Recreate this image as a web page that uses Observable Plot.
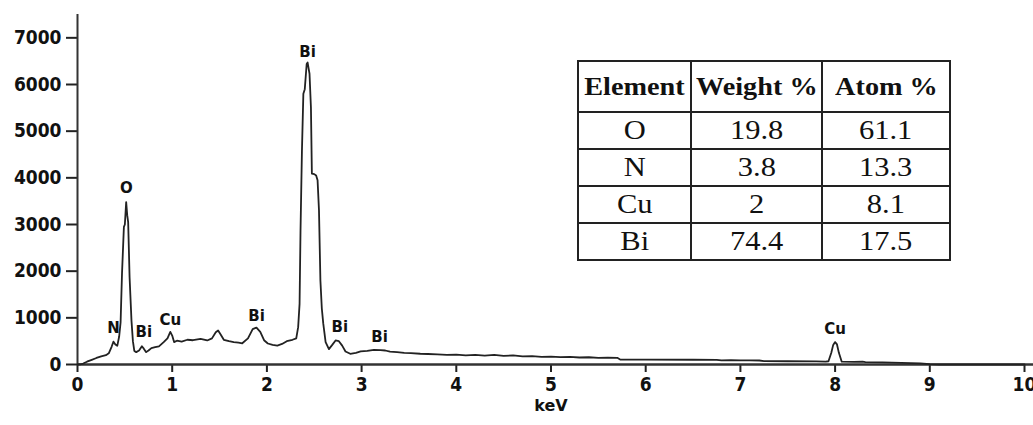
<!DOCTYPE html>
<html>
<head>
<meta charset="utf-8">
<script src="https://cdn.jsdelivr.net/npm/d3@7"></script>
<script src="https://cdn.jsdelivr.net/npm/@observablehq/plot@0.6"></script>
<style>
  html, body { margin: 0; padding: 0; background: #fff; }
  #wrap { position: relative; width: 1033px; height: 425px; overflow: hidden; }
  #chart svg { display: block; }
  #chart svg g[aria-label="y-axis tick label"] text,
  #chart svg g[aria-label="x-axis tick label"] text {
    font-family: "DejaVu Sans Condensed", "DejaVu Sans", sans-serif;
    font-stretch: condensed;
    font-weight: bold;
    font-size: 19px;
    fill: #111;
  }
  table.eds {
    position: absolute; left: 577px; top: 60px;
    border-collapse: collapse;
    table-layout: fixed;
    width: 366px;
    font-family: "Liberation Serif", "Times New Roman", Times, serif;
    color: #111;
  }
  table.eds td, table.eds th {
    border: 2px solid #222;
    text-align: center;
    padding: 0;
    line-height: 1;
    white-space: nowrap;
  }
  table.eds th { font-weight: bold; font-size: 25px; height: 49px; }
  table.eds td { height: 35px; font-weight: normal; font-size: 27px; }
  table.eds span { display: inline-block; transform: scaleX(1.13); }
</style>
</head>
<body>
<div id="wrap">
  <div id="chart"></div>
</div>
<script>
// ---- Spectrum data (keV, counts) ----
const keV = [
  0.00, 0.03, 0.06, 0.10, 0.15, 0.20, 0.25, 0.30, 0.33, 0.36, 0.38, 0.40, 0.42, 0.44, 0.455, 0.47, 0.49, 0.50, 0.514, 0.525,
  0.535, 0.55, 0.57, 0.585, 0.60, 0.62, 0.65, 0.68, 0.70, 0.725, 0.75, 0.78, 0.82, 0.86, 0.91, 0.95, 0.98, 1.00, 1.02, 1.05,
  1.10, 1.16, 1.22, 1.30, 1.37, 1.42, 1.46, 1.485, 1.51, 1.545, 1.60, 1.65, 1.70, 1.74, 1.80, 1.85, 1.89, 1.93, 1.97, 2.01,
  2.06, 2.11, 2.16, 2.21, 2.27, 2.31, 2.33, 2.345, 2.355, 2.37, 2.385, 2.40, 2.42, 2.43, 2.45, 2.465, 2.475, 2.50, 2.52, 2.535,
  2.55, 2.565, 2.58, 2.595, 2.62, 2.655, 2.69, 2.725, 2.76, 2.795, 2.83, 2.88, 2.94, 2.99, 3.06, 3.13, 3.20, 3.25, 3.30, 3.375,
  3.45, 3.52, 3.62, 3.70, 3.80, 3.90, 4.00, 4.10, 4.20, 4.30, 4.40, 4.50, 4.60, 4.70, 4.80, 4.90, 5.00, 5.10, 5.20, 5.30,
  5.40, 5.50, 5.60, 5.70, 5.73, 6.00, 6.50, 6.75, 6.80, 6.90, 7.00, 7.10, 7.20, 7.25, 7.50, 7.80, 7.90, 7.93, 7.96, 7.98,
  8.00, 8.02, 8.04, 8.07, 8.20, 8.29, 8.32, 8.50, 8.70, 8.90, 9.00, 9.10, 10.0
];
const counts = [
  0, 5, 20, 60, 100, 140, 175, 200, 240, 380, 490, 430, 400, 600, 900, 1950, 2950, 3000, 3480, 3200,
  3050, 1870, 940, 500, 290, 265, 300, 390, 340, 265, 300, 350, 370, 390, 480, 560, 700, 620, 480, 510,
  490, 530, 520, 550, 515, 560, 690, 730, 650, 530, 500, 480, 470, 455, 560, 760, 790, 700, 520, 450,
  420, 405, 440, 500, 530, 560, 800, 1300, 2870, 4580, 5800, 5900, 6440, 6470, 6230, 5510, 4090, 4080, 4050, 3950,
  3300, 1800, 1200, 880, 480, 330, 420, 515, 500, 405, 280, 230, 250, 280, 290, 315, 310, 300, 275, 265,
  250, 245, 230, 225, 215, 205, 210, 195, 205, 190, 205, 185, 195, 175, 180, 165, 170, 160, 165, 150,
  155, 140, 148, 143, 107, 105, 102, 100, 90, 92, 88, 90, 86, 71, 70, 65, 62, 70, 250, 420,
  480, 430, 250, 60, 55, 60, 50, 45, 35, 25, 10, 0, 0
];

// ---- Peak labels ----
const peakNames  = ["N", "O", "Bi", "Cu", "Bi", "Bi", "Bi", "Bi", "Cu"];
const peakKeV    = [0.38, 0.517, 0.70, 0.98, 1.89, 2.43, 2.77, 3.19, 8.0];
const peakCounts = [770, 3770, 685, 940, 1030, 6700, 790, 580, 750];

// ---- Axis ticks ----
const xTicks = [0, 1, 2, 3, 4, 5, 6, 7, 8, 9, 10];
const yTicks = [0, 1000, 2000, 3000, 4000, 5000, 6000, 7000];
const xLabel = "keV";

// ---- Composition table ----
const tableHeader = ["Element", "Weight %", "Atom %"];
const elements  = ["O", "N", "Cu", "Bi"];
const weightPct = ["19.8", "3.8", "2", "74.4"];
const atomPct   = ["61.1", "13.3", "8.1", "17.5"];

const spectrum = keV.map((k, i) => ({keV: k, counts: counts[i]}));
const peaks = peakNames.map((n, i) => ({name: n, keV: peakKeV[i], counts: peakCounts[i]}));

const tickFont = "DejaVu Sans Condensed, DejaVu Sans, sans-serif";
const chart = Plot.plot({
  width: 1033,
  height: 425,
  marginLeft: 77,
  marginRight: 9,
  marginTop: 14,
  marginBottom: 61,
  style: {background: "#fff", color: "#222", fontFamily: "DejaVu Sans, sans-serif"},
  x: {domain: [0, 10]},
  y: {domain: [0, 7500]},
  marks: [
    Plot.axisY({ticks: yTicks, tickFormat: d3.format("d"), tickSize: 11, tickPadding: 5, label: null, strokeWidth: 2,
      fontSize: 19, fontWeight: "bold", fontFamily: tickFont}),
    Plot.axisX({ticks: xTicks, tickFormat: d3.format("d"), tickSize: 8, tickPadding: 5, label: null, strokeWidth: 2,
      fontSize: 19, fontWeight: "bold", fontFamily: tickFont}),
    Plot.ruleX([0], {y1: 0, y2: 7500, stroke: "#333", strokeWidth: 2}),
    Plot.ruleY([0], {x1: 0, x2: 10.1, stroke: "#333", strokeWidth: 2.5}),
    Plot.line(spectrum, {x: "keV", y: "counts", stroke: "#222", strokeWidth: 1.8}),
    Plot.text(peaks, {x: "keV", y: "counts", text: "name", fontWeight: "bold", fontSize: 15, fill: "#111", fontFamily: "DejaVu Sans, sans-serif"}),
    Plot.text([xLabel], {frameAnchor: "bottom", dy: 46, text: d => d, fontWeight: "bold", fontSize: 16, fill: "#111", fontFamily: "DejaVu Sans, sans-serif"})
  ]
});
document.getElementById("chart").appendChild(chart);

// table
const table = document.createElement("table");
table.className = "eds";
const widths = [111, 129, 126];
const hr = document.createElement("tr");
tableHeader.forEach((h, i) => {
  const th = document.createElement("th");
  const s = document.createElement("span");
  s.textContent = h;
  th.appendChild(s);
  th.style.width = widths[i] + "px";
  hr.appendChild(th);
});
table.appendChild(hr);
elements.forEach((e, i) => {
  const tr = document.createElement("tr");
  [e, weightPct[i], atomPct[i]].forEach(v => {
    const td = document.createElement("td");
    const s = document.createElement("span");
    s.textContent = v;
    td.appendChild(s);
    tr.appendChild(td);
  });
  table.appendChild(tr);
});
document.getElementById("wrap").appendChild(table);
</script>
</body>
</html>
